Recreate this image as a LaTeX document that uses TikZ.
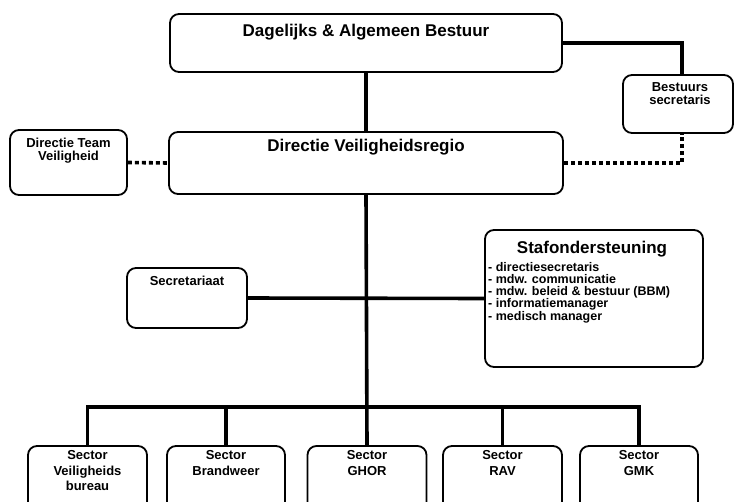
\documentclass[tikz,border=0pt]{standalone}
\usepackage{fontspec}
\setmainfont{Liberation Sans}
\usetikzlibrary{backgrounds}
\begin{document}
\begin{tikzpicture}[x=1pt,y=-1pt,
  box/.style={draw=black, line width=1.8pt, rounded corners=9pt, fill=white, inner sep=0pt},
  conn/.style={line width=3.6pt},
  dots/.style={line width=3.6pt, dash pattern=on 4pt off 3pt},
  big/.style={font=\fontsize{17}{20}\selectfont\bfseries, inner sep=0pt},
  small/.style={font=\fontsize{13}{14}\selectfont\bfseries, inner sep=0pt, align=center},
  sectortext/.style={small, anchor=north, font=\fontsize{13}{15.5}\selectfont\bfseries},
]
\useasboundingbox (0,0) rectangle (734,501);
\clip (0,0) rectangle (734,501);

% boxes
\node[box, minimum width=392, minimum height=58] (top) at (366,43) {};
\node[box, minimum width=110, minimum height=58] (bs) at (678,104) {};
\node[box, minimum width=117, minimum height=65] (dtv) at (68.5,162.5) {};
\node[box, minimum width=394, minimum height=62] (dvr) at (366,163) {};
\node[box, minimum width=120, minimum height=60] (sec) at (187,298) {};
\node[box, minimum width=218, minimum height=137] (staf) at (594,298.5) {};
\node[box, minimum width=119, minimum height=74] (s1) at (87.5,483) {};
\node[box, minimum width=118, minimum height=74] (s2) at (226,483) {};
\node[box, minimum width=119, minimum height=74] (s3) at (367,483) {};
\node[box, minimum width=119, minimum height=74] (s4) at (502.5,483) {};
\node[box, minimum width=118, minimum height=74] (s5) at (639,483) {};

\coordinate (bar) at (367,407);

% connectors (behind the boxes)
\begin{scope}[on background layer]
\draw[conn] (top.south) -- (dvr.north);
\draw[conn] (dvr.south) -- (s3.north);
\draw[conn] (top.east) -| ([xshift=4]bs.north);
\draw[dots] (dtv.east) -- (dvr.west);
\draw[dots] (dvr.east) -| ([xshift=4]bs.south);
\draw[conn] (sec.east) -- (staf.west);
\draw[conn] (s1.north) |- (bar) -| (s5.north);
\draw[conn] (s2.north) -- (s2.north |- bar);
\draw[conn] (s4.north) -- (s4.north |- bar);
\end{scope}

% texts
\node[big, anchor=base] (ttop) at (366,36) {Dagelijks \& Algemeen Bestuur};
\node[big, anchor=base] (tdvr) at (366,151) {Directie Veiligheidsregio};
\node[small, anchor=north, font=\fontsize{13}{12.5}\selectfont\bfseries] (tbs) at (680,82.5) {Bestuurs\\secretaris};
\node[small, anchor=north, font=\fontsize{13}{13}\selectfont\bfseries] (tdtv) at (68.5,137.5) {Directie Team\\Veiligheid};
\node[small, anchor=base] (tsec) at (187,285) {Secretariaat};
\node[big, anchor=base] (tstaf) at (592,253) {Stafondersteuning};
\node[anchor=north west, inner sep=0pt, align=left, font=\fontsize{12.5}{12.2}\selectfont\bfseries] (titems) at (488,262)
  {- directiesecretaris\\- mdw. communicatie\\- mdw. beleid \& bestuur (BBM)\\- informatiemanager\\- medisch manager};
\node[sectortext] (ts1) at (87.5,450.5) {Sector\\Veiligheids\\bureau};
\node[sectortext] (ts2) at (226,450.5) {Sector\\Brandweer};
\node[sectortext] (ts3) at (367,450.5) {Sector\\GHOR};
\node[sectortext] (ts4) at (502.5,450.5) {Sector\\RAV};
\node[sectortext] (ts5) at (639,450.5) {Sector\\GMK};
\end{tikzpicture}
\end{document}
